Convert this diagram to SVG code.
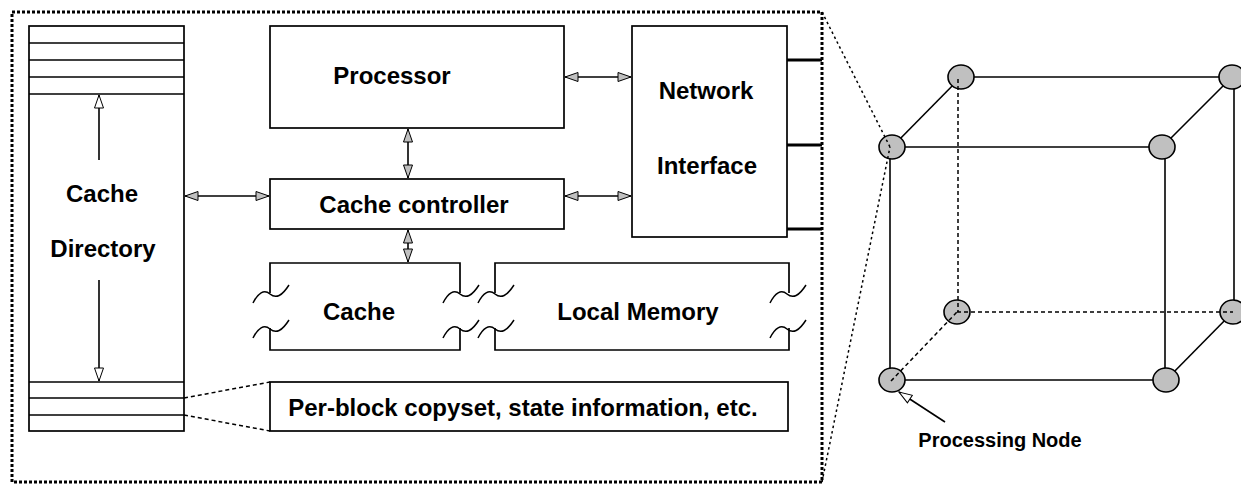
<svg xmlns="http://www.w3.org/2000/svg" width="1241" height="484" viewBox="0 0 1241 484">
<style>
.bx{fill:none;stroke:#000;stroke-width:1.7}
.ln{fill:none;stroke:#000;stroke-width:1.6}
.t{font-family:"Liberation Sans",Arial,Helvetica,sans-serif;font-weight:bold;font-size:24px;fill:#000;text-anchor:middle}
.dash{fill:none;stroke:#000;stroke-width:1.5;stroke-dasharray:4,3}
.dot{fill:none;stroke:#000;stroke-width:1.5;stroke-dasharray:2.5,3}
.frame{fill:none;stroke:#000;stroke-width:3;stroke-dasharray:3,2}
.node{fill:#c0c0c0;stroke:#000;stroke-width:1.6}
.wave{fill:none;stroke:#000;stroke-width:1.5}
.thick{stroke:#000;stroke-width:3}
</style>
<defs>
<marker id="ag" markerUnits="userSpaceOnUse" markerWidth="16" markerHeight="11" refX="13" refY="4.5" orient="auto-start-reverse" viewBox="-1 -1 16 11">
<path d="M0,0 L13,4.5 L0,9 Z" fill="#c0c0c0" stroke="#000" stroke-width="1"/>
</marker>
<marker id="aw" markerUnits="userSpaceOnUse" markerWidth="16" markerHeight="11" refX="13" refY="4.5" orient="auto" viewBox="-1 -1 16 11">
<path d="M0,0 L13,4.5 L0,9 Z" fill="#fff" stroke="#000" stroke-width="1"/>
</marker>
<path id="wv" d="M-17,10 C-12,0 -6,-4 0,1 C6,6 12,3 19,-8"/>
</defs>

<rect class="frame" x="12" y="12" width="810" height="470"/>

<g id="cache-directory">
<rect class="bx" x="29" y="26" width="155" height="405"/>
<line class="ln" x1="29" y1="43" x2="184" y2="43"/>
<line class="ln" x1="29" y1="60" x2="184" y2="60"/>
<line class="ln" x1="29" y1="77" x2="184" y2="77"/>
<line class="ln" x1="29" y1="94" x2="184" y2="94"/>
<line class="ln" x1="29" y1="382" x2="184" y2="382"/>
<line class="ln" x1="29" y1="398" x2="184" y2="398"/>
<line class="ln" x1="29" y1="415" x2="184" y2="415"/>
<line class="ln" x1="99" y1="160" x2="99" y2="95" marker-end="url(#aw)"/>
<line class="ln" x1="99" y1="280" x2="99" y2="381" marker-end="url(#aw)"/>
<text class="t" x="102" y="202">Cache</text>
<text class="t" x="103" y="257">Directory</text>
</g>

<g id="processor">
<rect class="bx" x="270" y="26" width="294" height="102"/>
<text class="t" x="392" y="84">Processor</text>
</g>

<g id="cache-controller">
<rect class="bx" x="270" y="179" width="294" height="50"/>
<text class="t" x="414" y="213">Cache controller</text>
</g>

<g id="network-interface">
<rect class="bx" x="632" y="26" width="155" height="211"/>
<text class="t" x="706" y="99">Network</text>
<text class="t" x="707" y="174">Interface</text>
<line class="thick" x1="787" y1="60" x2="822" y2="60"/>
<line class="thick" x1="787" y1="145" x2="822" y2="145"/>
<line class="thick" x1="787" y1="229" x2="822" y2="229"/>
</g>

<g id="cache">
<path class="bx" d="M270,293 V263 H460 V293 M270,328 V350 H460 V328"/>
<use href="#wv" class="wave" x="270" y="293"/>
<use href="#wv" class="wave" x="270" y="328"/>
<use href="#wv" class="wave" x="460" y="293"/>
<use href="#wv" class="wave" x="460" y="328"/>
<text class="t" x="359" y="320">Cache</text>
</g>

<g id="local-memory">
<path class="bx" d="M495,293 V263 H789 V293 M495,328 V350 H789 V328"/>
<use href="#wv" class="wave" x="495" y="293"/>
<use href="#wv" class="wave" x="495" y="328"/>
<use href="#wv" class="wave" x="787" y="293"/>
<use href="#wv" class="wave" x="787" y="328"/>
<text class="t" x="638" y="320">Local Memory</text>
</g>

<g id="per-block">
<rect class="bx" x="270" y="382" width="518" height="49"/>
<text class="t" x="523" y="416">Per-block copyset, state information, etc.</text>
</g>

<g id="connectors">
<line class="ln" x1="185" y1="196" x2="269" y2="196" marker-start="url(#ag)" marker-end="url(#ag)"/>
<line class="ln" x1="408" y1="129" x2="408" y2="178" marker-start="url(#ag)" marker-end="url(#ag)"/>
<line class="ln" x1="408" y1="230" x2="408" y2="262" marker-start="url(#ag)" marker-end="url(#ag)"/>
<line class="ln" x1="565" y1="77" x2="631" y2="77" marker-start="url(#ag)" marker-end="url(#ag)"/>
<line class="ln" x1="565" y1="196" x2="631" y2="196" marker-start="url(#ag)" marker-end="url(#ag)"/>
<line class="dash" x1="184" y1="398" x2="270" y2="382"/>
<line class="dash" x1="184" y1="415" x2="270" y2="431"/>
</g>

<g id="hypercube">
<g class="ln">
<line x1="892" y1="147" x2="961" y2="77"/>
<line x1="961" y1="77" x2="1232" y2="77"/>
<line x1="1232" y1="77" x2="1162" y2="147"/>
<line x1="892" y1="147" x2="1162" y2="147"/>
<line x1="890" y1="147" x2="890" y2="380"/>
<line x1="1165" y1="147" x2="1165" y2="380"/>
<line x1="1234" y1="77" x2="1234" y2="312"/>
<line x1="892" y1="380" x2="1166" y2="380"/>
<line x1="1166" y1="380" x2="1233" y2="312"/>
</g>
<g id="n1"><ellipse class="node" cx="961" cy="77" rx="13" ry="12"/></g>
<g id="n2"><ellipse class="node" cx="1232" cy="77" rx="13" ry="12"/></g>
<g id="n3"><ellipse class="node" cx="892" cy="147" rx="13" ry="12"/></g>
<g id="n4"><ellipse class="node" cx="1162" cy="147" rx="13" ry="12"/></g>
<g id="n5"><ellipse class="node" cx="957" cy="312" rx="13" ry="12"/></g>
<g id="n6"><ellipse class="node" cx="1233" cy="312" rx="13" ry="12"/></g>
<g id="n7"><ellipse class="node" cx="892" cy="380" rx="13" ry="12"/></g>
<g id="n8"><ellipse class="node" cx="1166" cy="380" rx="13" ry="12"/></g>
<line class="dash" x1="958" y1="79" x2="958" y2="312"/>
<line class="dash" x1="957" y1="312" x2="1233" y2="312"/>
<line class="dash" x1="891" y1="381" x2="957" y2="312"/>
<line class="dot" x1="822" y1="12" x2="890" y2="147"/>
<line class="dot" x1="822" y1="482" x2="890" y2="147"/>
<line class="ln" x1="945" y1="422" x2="899" y2="392" marker-end="url(#aw)"/>
<text class="t" x="1000" y="447" style="font-size:20px">Processing Node</text>
</g>
</svg>
